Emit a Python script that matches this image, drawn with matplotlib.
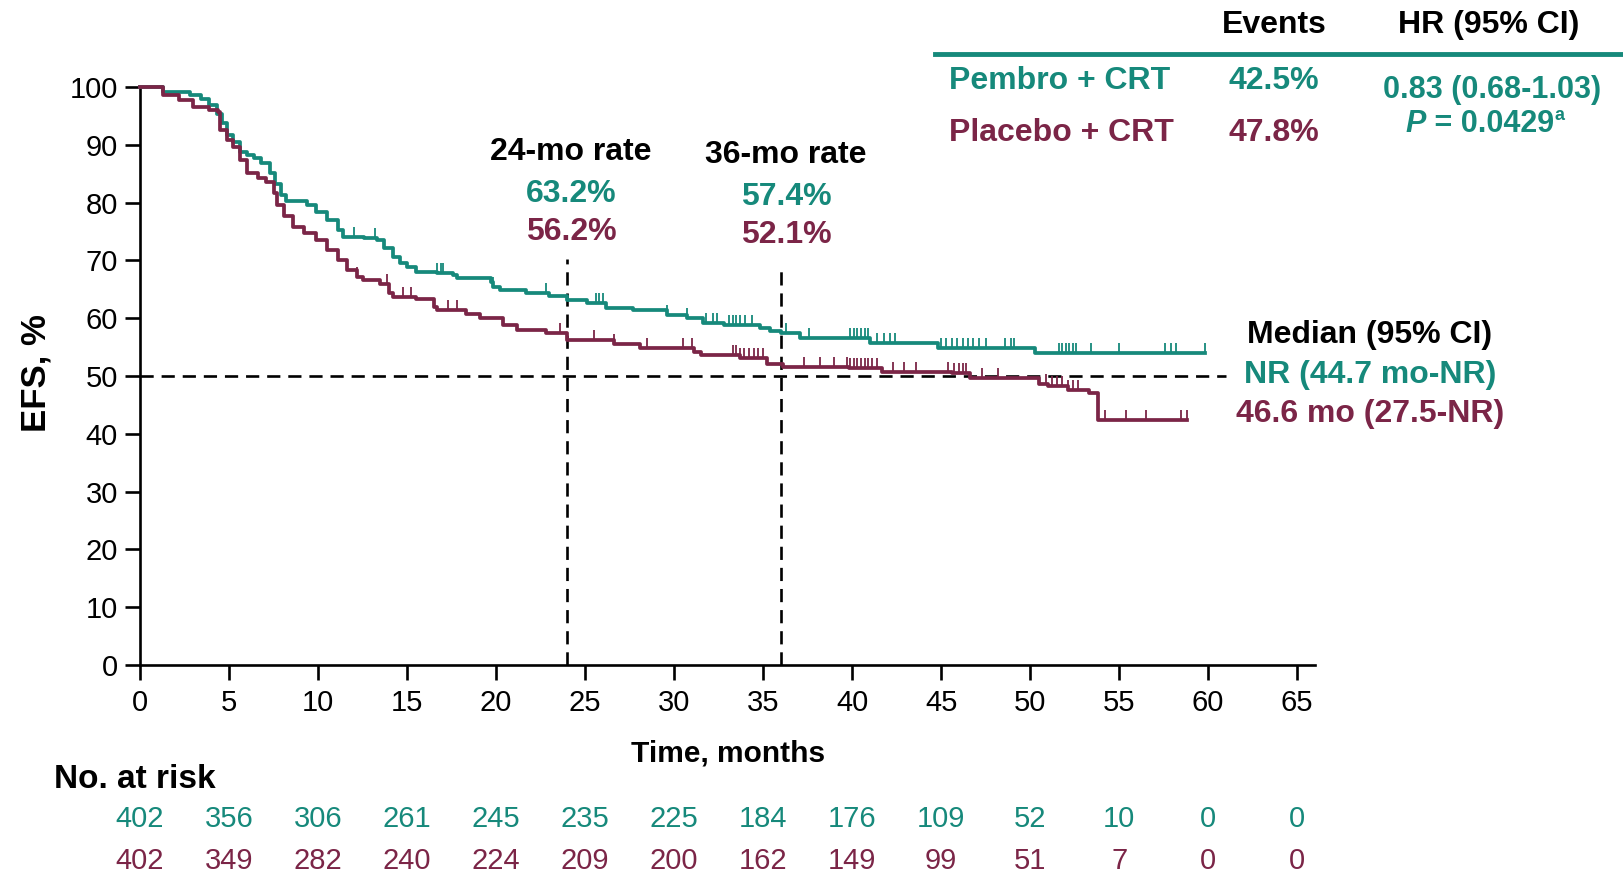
import numpy as np
import matplotlib
matplotlib.use("Agg")
import matplotlib.pyplot as plt
from matplotlib.lines import Line2D
from matplotlib.transforms import blended_transform_factory

plt.rcParams['font.family'] = ['Liberation Sans', 'DejaVu Sans']

TEAL = '#16897b'
MAROON = '#7b2547'

# Kaplan-Meier steps: time (months) and EFS (%) from that time on
pembro_t = [0, 1.3, 2.8, 3.4, 3.9, 4.3, 4.6, 4.9, 5.2, 5.6, 6.0, 6.4, 6.8, 7.3, 7.6,
            7.9, 8.2, 9.4, 9.9, 10.5, 11.1, 11.4, 12.6, 13.3, 13.7, 14.2, 14.6, 15.0,
            15.5, 16.7, 17.6, 17.8, 19.7, 19.8, 20.2, 21.7, 23.0, 24.0, 25.1, 26.2,
            27.7, 29.6, 30.7, 31.6, 32.8, 34.8, 35.4, 36.0, 37.1, 41.0, 44.8, 50.3]
pembro_s = [100, 99.2, 98.6, 98.0, 96.9, 95.4, 93.7, 91.7, 90.5, 88.8, 88.2, 87.7, 86.8,
            85.1, 83.3, 81.3, 80.2, 79.6, 78.4, 77.0, 75.3, 74.1, 73.8, 73.5, 72.1, 70.6,
            69.5, 68.9, 68.0, 67.8, 67.5, 66.9, 66.3, 65.4, 64.9, 64.3, 63.8, 63.2, 62.6,
            61.7, 61.4, 60.6, 60.0, 59.1, 58.8, 58.3, 57.8, 57.4, 56.5, 55.7, 54.8, 53.9]
pembro_end = 59.8

placebo_t = [0, 1.3, 2.2, 3.0, 3.9, 4.4, 4.5, 4.9, 5.2, 5.6, 6.0, 6.6, 7.1, 7.5, 7.7,
             8.1, 8.6, 9.2, 9.9, 10.5, 11.1, 11.6, 12.2, 12.5, 13.5, 14.0, 14.2, 15.5,
             16.5, 16.7, 18.3, 19.1, 20.4, 21.2, 22.8, 24.0, 26.6, 28.1, 31.1, 31.5,
             33.7, 35.2, 36.1, 39.8, 41.7, 45.6, 46.6, 50.5, 51.0, 52.1, 53.3, 53.8]
placebo_s = [100, 98.6, 97.8, 96.6, 96.0, 95.7, 92.6, 90.8, 89.7, 87.4, 85.1, 84.2, 83.6,
             81.6, 79.6, 77.6, 75.8, 74.7, 73.5, 71.8, 70.1, 68.3, 67.2, 66.6, 66.0, 64.3,
             63.7, 63.4, 62.0, 61.4, 60.8, 60.0, 58.8, 58.0, 57.4, 56.2, 55.6, 54.8, 54.2,
             53.6, 53.1, 52.1, 51.6, 51.3, 50.7, 50.5, 49.6, 48.7, 48.2, 47.6, 47.0, 42.4]
placebo_end = 58.8

# Censoring times (months)
pembro_cens = [12.0, 13.2, 16.7, 16.9, 17.0, 19.8, 22.8, 25.6, 25.8, 26.0, 29.6, 30.7,
               31.8, 32.2, 32.4, 33.1, 33.3, 33.5, 33.7, 34.0, 34.4, 36.3, 37.6, 39.9,
               40.1, 40.3, 40.5, 40.7, 40.9, 41.4, 41.8, 42.1, 42.4, 45.0, 45.3, 45.6,
               45.9, 46.2, 46.5, 46.8, 47.1, 47.5, 48.6, 48.9, 49.1, 51.6, 51.8, 52.0,
               52.2, 52.4, 52.6, 53.4, 55.0, 57.6, 57.9, 58.2, 59.8]
placebo_cens = [12.2, 13.9, 14.8, 15.2, 17.3, 17.8, 23.6, 25.5, 26.6, 28.5, 30.5, 31.0,
                33.3, 33.5, 33.7, 33.9, 34.2, 34.5, 34.7, 35.0, 37.3, 38.2, 39.0, 39.7,
                39.9, 40.1, 40.3, 40.5, 40.7, 40.9, 41.1, 41.4, 42.3, 42.9, 43.6, 45.4,
                45.7, 46.0, 46.2, 46.4, 47.3, 48.2, 50.9, 51.2, 51.5, 51.8, 52.1, 52.4,
                52.7, 54.2, 55.4, 56.5, 58.5, 58.8]

time_ticks = list(range(0, 70, 5))
efs_ticks = list(range(0, 110, 10))
pembro_risk = [402, 356, 306, 261, 245, 235, 225, 184, 176, 109, 52, 10, 0, 0]
placebo_risk = [402, 349, 282, 240, 224, 209, 200, 162, 149, 99, 51, 7, 0, 0]

rate_months = [24, 36]
rate_tops = [70.2, 68.9]
pembro_rates = [63.2, 57.4]
placebo_rates = [56.2, 52.1]

W, H = 1624, 875
fig = plt.figure(figsize=(W / 100, H / 100), dpi=100)
ax = fig.add_axes([140 / W, 210 / H, 1175 / W, 578 / H])

FS = 23


def px(x, y):
    return x / W, 1 - y / H


def step_value(t, s, x):
    idx = np.searchsorted(t, x, side='right') - 1
    return np.asarray(s)[idx]


for t, s, end, cens, col in [(pembro_t, pembro_s, pembro_end, pembro_cens, TEAL),
                             (placebo_t, placebo_s, placebo_end, placebo_cens, MAROON)]:
    tt = list(t) + [end]
    ss = list(s) + [s[-1]]
    ax.plot(tt, ss, drawstyle='steps-post', color=col, lw=2.7, clip_on=False, zorder=3)
    cy = step_value(np.array(t), s, np.array(cens))
    ax.plot(cens, cy, linestyle='none', marker=2, markersize=7, markeredgewidth=1.3,
            color=col, zorder=3)

dash_kw = dict(color='black', lw=1.9, dashes=(5, 3), zorder=2)
ax.plot([0, 61], [50, 50], **dash_kw)
for m, top in zip(rate_months, rate_tops):
    ax.plot([m, m], [0, top], **dash_kw)

ax.set_xlim(0, 66)
ax.set_ylim(0, 100)
ax.set_xticks(time_ticks)
ax.set_yticks(efs_ticks)
for side in ['top', 'right']:
    ax.spines[side].set_visible(False)
for side in ['left', 'bottom']:
    ax.spines[side].set_linewidth(1.9)
ax.tick_params(direction='out', length=11, width=1.9, labelsize=21, pad=6)
ax.tick_params(axis='y', pad=5)

fig.text(*px(36, 373), 'EFS, %', rotation=90, fontsize=25, fontweight='bold',
         ha='center', va='center')
fig.text(*px(728, 754), 'Time, months', fontsize=21.5, fontweight='bold',
         ha='center', va='center')

# Number at risk table
fig.text(*px(54, 779), 'No. at risk', fontsize=24, fontweight='bold',
         ha='left', va='center')
tr = blended_transform_factory(ax.transData, fig.transFigure)
for m, a, b in zip(time_ticks, pembro_risk, placebo_risk):
    ax.text(m, 1 - 819 / H, str(a), transform=tr, color=TEAL, fontsize=21,
            ha='center', va='center')
    ax.text(m, 1 - 861 / H, str(b), transform=tr, color=MAROON, fontsize=21,
            ha='center', va='center')

# Landmark rates
for m, xc, y0, pr, pl in zip(rate_months, [571, 786], [152, 155], pembro_rates, placebo_rates):
    fig.text(*px(xc, y0), f'{m}-mo rate', fontsize=FS, fontweight='bold',
             ha='center', va='center')
    fig.text(*px(xc, y0 + 42), f'{pr:.1f}%', fontsize=FS, fontweight='bold',
             color=TEAL, ha='center', va='center')
    fig.text(*px(xc, y0 + 80), f'{pl:.1f}%', fontsize=FS, fontweight='bold',
             color=MAROON, ha='center', va='center')

# Median EFS
fig.text(*px(1370, 335), 'Median (95% CI)', fontsize=FS, fontweight='bold',
         ha='center', va='center')
fig.text(*px(1370, 375), 'NR (44.7 mo-NR)', fontsize=FS, fontweight='bold',
         color=TEAL, ha='center', va='center')
fig.text(*px(1370, 414), '46.6 mo (27.5-NR)', fontsize=FS, fontweight='bold',
         color=MAROON, ha='center', va='center')

# Summary table
fig.text(*px(1274, 25), 'Events', fontsize=FS, fontweight='bold', ha='center', va='center')
fig.text(*px(1489, 25), 'HR (95% CI)', fontsize=FS, fontweight='bold', ha='center', va='center')
fig.add_artist(Line2D([935 / W, 1.0], [1 - 54 / H] * 2, transform=fig.transFigure,
                      color=TEAL, lw=3.5))
fig.text(*px(949, 81), 'Pembro + CRT', fontsize=FS, fontweight='bold', color=TEAL,
         ha='left', va='center')
fig.text(*px(949, 133), 'Placebo + CRT', fontsize=FS, fontweight='bold', color=MAROON,
         ha='left', va='center')
fig.text(*px(1274, 81), '42.5%', fontsize=FS, fontweight='bold', color=TEAL,
         ha='center', va='center')
fig.text(*px(1274, 133), '47.8%', fontsize=FS, fontweight='bold', color=MAROON,
         ha='center', va='center')
fig.text(*px(1492, 90), '0.83 (0.68-1.03)', fontsize=22, fontweight='bold', color=TEAL,
         ha='center', va='center')
p_txt = fig.text(*px(1416, 124), 'P', fontsize=22, fontweight='bold', fontstyle='italic',
                 color=TEAL, ha='center', va='center')
val = fig.text(0, 0, ' = 0.0429', fontsize=22, fontweight='bold', color=TEAL)
val.remove()
val = plt.annotate(' = 0.0429', xy=(1, 0), xycoords=p_txt, fontsize=22, fontweight='bold',
                   color=TEAL, ha='left', va='bottom', annotation_clip=False)
plt.annotate('a', xy=(1, 0.5), xycoords=val, fontsize=13, fontweight='bold',
             color=TEAL, ha='left', va='bottom', annotation_clip=False)

fig.savefig('out.png', dpi=100, facecolor='white')
